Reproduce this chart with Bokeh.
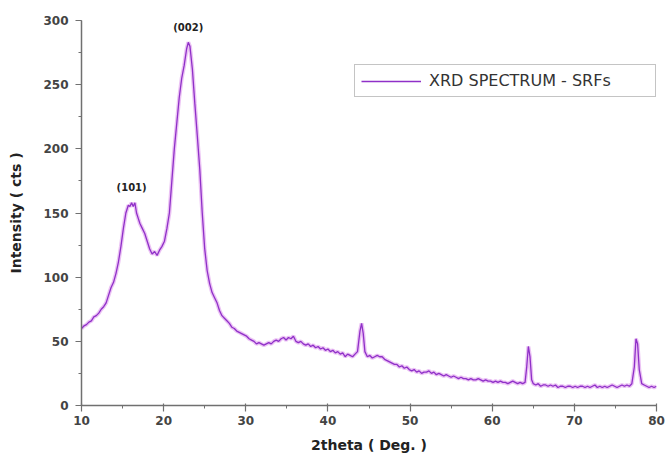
from bokeh.plotting import figure
from bokeh.models import ColumnDataSource, SingleIntervalTicker, Legend, LegendItem, Range1d
from bokeh.core.properties import value
from bokeh.embed import file_html
from bokeh.resources import INLINE

# ---- data ----
two_theta = [
    10.0, 10.3, 10.6, 10.9, 11.2, 11.5, 11.8, 12.1, 12.4, 12.7,
    13.0, 13.3, 13.6, 13.9, 14.2, 14.5, 14.8, 15.1, 15.4, 15.7,
    15.9, 16.1, 16.3, 16.5, 16.7, 16.9, 17.1, 17.4, 17.7, 18.0,
    18.3, 18.6, 18.9, 19.2, 19.5, 19.8, 20.1, 20.4, 20.7, 21.0,
    21.3, 21.6, 21.9, 22.2, 22.5, 22.8, 23.0, 23.2, 23.5, 23.8,
    24.1, 24.4, 24.7, 25.0, 25.3, 25.6, 25.9, 26.2, 26.5, 26.8,
    27.1, 27.4, 27.7, 28.0, 28.3, 28.6, 28.9, 29.2, 29.5, 29.8,
    30.1, 30.4, 30.7, 31.0, 31.3, 31.6, 31.9, 32.2, 32.5, 32.8,
    33.1, 33.4, 33.7, 34.0, 34.3, 34.6, 34.9, 35.2, 35.5, 35.8,
    36.1, 36.4, 36.7, 37.0, 37.3, 37.6, 37.9, 38.2, 38.5, 38.8,
    39.1, 39.4, 39.7, 40.0, 40.3, 40.6, 40.9, 41.2, 41.5, 41.8,
    42.1, 42.4, 42.7, 43.0, 43.3, 43.6, 43.9, 44.1, 44.3, 44.5,
    44.8, 45.1, 45.4, 45.7, 46.0, 46.3, 46.6, 46.9, 47.2, 47.5,
    47.8, 48.1, 48.4, 48.7, 49.0, 49.3, 49.6, 49.9, 50.2, 50.5,
    50.8, 51.1, 51.4, 51.7, 52.0, 52.3, 52.6, 52.9, 53.2, 53.5,
    53.8, 54.1, 54.4, 54.7, 55.0, 55.3, 55.6, 55.9, 56.2, 56.5,
    56.8, 57.1, 57.4, 57.7, 58.0, 58.3, 58.6, 58.9, 59.2, 59.5,
    59.8, 60.1, 60.4, 60.7, 61.0, 61.3, 61.6, 61.9, 62.2, 62.5,
    62.8, 63.1, 63.4, 63.7, 64.0, 64.2, 64.4, 64.6, 64.8, 65.0,
    65.3, 65.6, 65.9, 66.2, 66.5, 66.8, 67.1, 67.4, 67.7, 68.0,
    68.3, 68.6, 68.9, 69.2, 69.5, 69.8, 70.1, 70.4, 70.7, 71.0,
    71.3, 71.6, 71.9, 72.2, 72.5, 72.8, 73.1, 73.4, 73.7, 74.0,
    74.3, 74.6, 74.9, 75.2, 75.5, 75.8, 76.1, 76.4, 76.7, 77.0,
    77.3, 77.5, 77.7, 77.9, 78.2, 78.5, 78.8, 79.1, 79.4, 79.7,
    80.0,
]
intensity = [
    60, 62, 63, 65, 66, 69, 70, 72, 75, 77,
    80, 86, 92, 96, 103, 112, 124, 138, 150, 156,
    155, 158, 155, 158, 150, 146, 142, 138, 134, 128,
    122, 118, 120, 117, 121, 124, 128, 138, 150, 175,
    200, 220, 240, 255, 265, 278, 283, 280, 262, 235,
    210, 184, 150, 122, 105, 95, 88, 84, 80, 74,
    70, 68, 66, 64, 61, 60, 58, 57, 56, 55,
    54, 52, 51, 50, 48, 49, 48, 47, 48, 49,
    48, 50, 51, 50, 52, 53, 51, 53, 52, 54,
    50, 49, 50, 48, 47, 48, 46, 47, 45, 46,
    44, 45, 43, 44, 42, 43, 41, 42, 40, 41,
    38, 40, 39, 38, 40, 42, 58, 64, 56, 42,
    38, 39, 37, 38, 39, 38, 38, 36, 35, 34,
    33, 32, 32, 30, 31, 29, 30, 28, 27, 28,
    26, 27, 25, 26, 26, 27, 25, 26, 24, 25,
    24, 23, 24, 23, 22, 23, 22, 21, 22, 21,
    21, 20, 21, 20, 20, 21, 20, 19, 20, 19,
    19, 18, 19, 18, 19, 18, 18, 17, 18, 19,
    18, 17, 18, 17, 18, 30, 46, 38, 20, 17,
    16, 17, 15, 16, 16, 15, 16, 15, 16, 14,
    15, 15, 14, 15, 15, 14, 15, 14, 15, 15,
    14, 15, 14, 15, 16, 14, 15, 14, 15, 14,
    15, 16, 15, 14, 15, 16, 15, 16, 15, 17,
    30, 52, 48, 28, 17, 16, 15, 14, 15, 14,
    15,
]
peak_hkl = ["(101)", "(002)"]
peak_theta = [16.1, 23.0]
peak_intensity = [158, 283]
series_name = "XRD SPECTRUM - SRFs"
x_label = "2theta ( Deg. )"
y_label = "Intensity ( cts )"

src = ColumnDataSource(dict(x=two_theta, y=intensity))
peaks = ColumnDataSource(dict(x=peak_theta, y=peak_intensity, t=peak_hkl))

p = figure(
    frame_width=575, frame_height=385,
    min_border_left=81, min_border_right=15, min_border_top=20, min_border_bottom=46,
    x_range=Range1d(10, 80), y_range=Range1d(0, 300),
    output_backend="svg", toolbar_location=None,
    background_fill_color="white", border_fill_color="white",
)
p.outline_line_color = None
p.xgrid.visible = False
p.ygrid.visible = False

halo = p.line("x", "y", source=src, line_color="#e2a8f0", line_width=4, line_alpha=0.7)
main = p.line("x", "y", source=src, line_color="#8f30c8", line_width=1.3)

p.text("x", "y", text="t", source=peaks, text_align="center", text_baseline="middle",
       y_offset=-15, text_font=value("DejaVu Sans"), text_font_style="bold",
       text_font_size="10px", text_color="#222222")

p.xaxis.ticker = SingleIntervalTicker(interval=10, num_minor_ticks=2)
p.yaxis.ticker = SingleIntervalTicker(interval=50, num_minor_ticks=2)

for ax in (p.xaxis[0], p.yaxis[0]):
    ax.axis_line_color = "#707070"
    ax.axis_line_width = 1.5
    ax.major_tick_line_color = "#707070"
    ax.major_tick_line_width = 1.2
    ax.minor_tick_line_color = "#707070"
    ax.major_tick_out = 6
    ax.minor_tick_out = 3
    ax.minor_tick_in = 0
    ax.major_label_text_font = "DejaVu Sans"
    ax.major_label_text_font_style = "bold"
    ax.major_label_text_font_size = "12px"
    ax.major_label_text_color = "#444444"
    ax.axis_label_text_font = "DejaVu Sans"
    ax.axis_label_text_font_style = "bold"
    ax.axis_label_text_font_size = "14px"
    ax.axis_label_text_color = "#222222"

p.xaxis.major_tick_in = 2
p.yaxis.major_tick_in = 0
p.xaxis.major_label_standoff = 4
p.yaxis.major_label_standoff = 7
p.xaxis.axis_label = x_label
p.yaxis.axis_label = y_label
p.xaxis.axis_label_standoff = 9
p.yaxis.axis_label_standoff = 16

legend = Legend(
    items=[LegendItem(label=series_name, renderers=[main])],
    location=(273, 308),
    padding=6, margin=0, spacing=0,
    glyph_width=60, glyph_height=18, label_height=18,
    label_standoff=8, label_width=220,
    label_text_font="DejaVu Sans", label_text_font_size="16px",
    label_text_color="#333333",
    border_line_color="#8a8a8a", border_line_width=1.2,
    background_fill_color="white", background_fill_alpha=1.0,
)
p.add_layout(legend, "center")

open("out.html", "w").write(file_html(p, INLINE))
